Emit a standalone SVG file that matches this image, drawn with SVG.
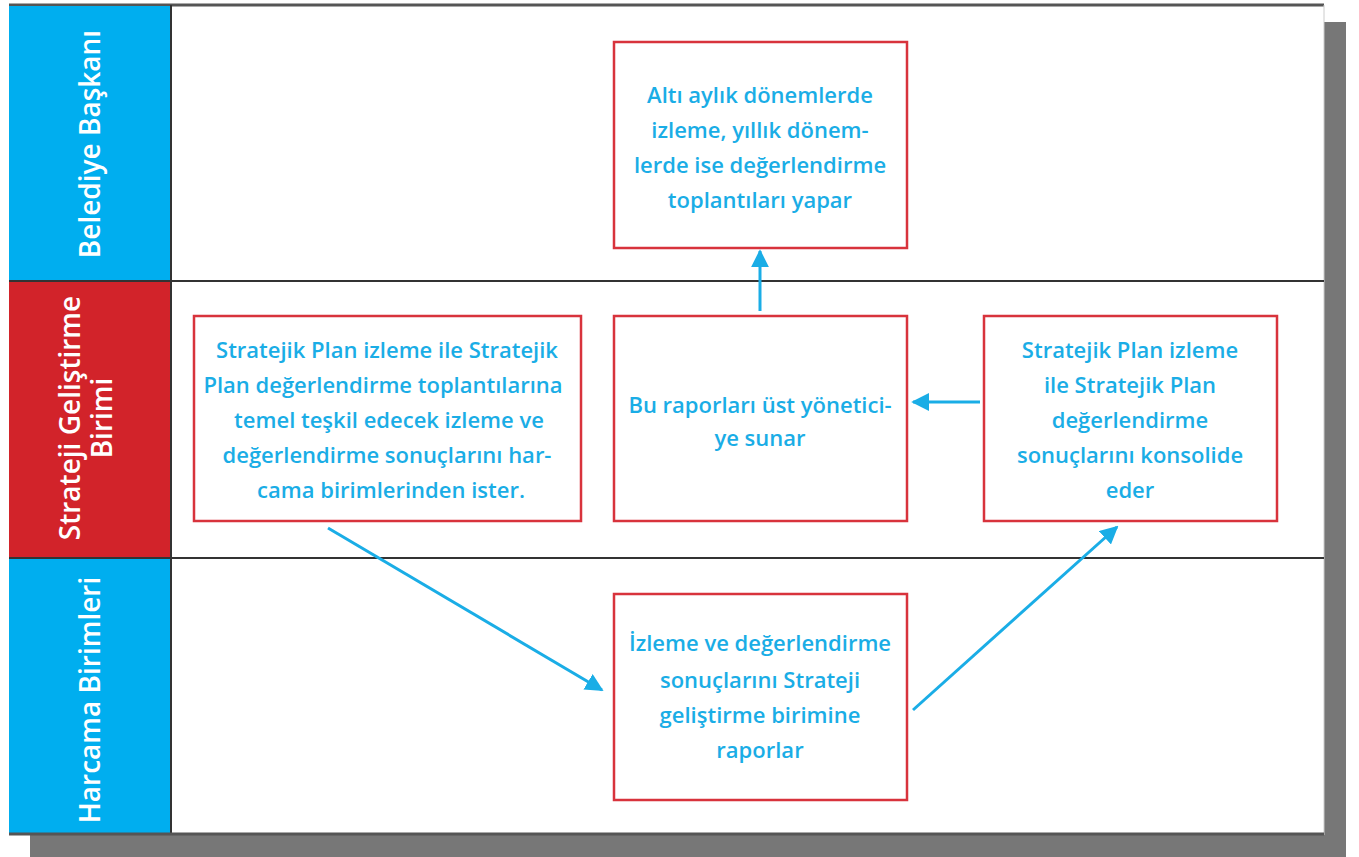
<svg xmlns="http://www.w3.org/2000/svg" width="1359" height="857" viewBox="0 0 1359 857">
<defs>
<style>
.lane{stroke:#333;stroke-width:2}
.box{fill:#fff;stroke:#D8333C;stroke-width:2.5}
.t{font-family:"Open Sans","Liberation Sans",sans-serif;font-size:22px;font-weight:600;fill:#1AADE6;text-anchor:middle}
.lbl{font-family:"Open Sans","Liberation Sans",sans-serif;font-size:28px;font-weight:600;fill:#fff;text-anchor:middle}
.c{stroke:#1AADE6;stroke-width:3;fill:none;marker-end:url(#ah)}
</style>
<marker id="ah" viewBox="0 0 10 10" refX="9" refY="5" markerWidth="6" markerHeight="6" orient="auto" markerUnits="strokeWidth">
<path d="M0,0 L10,5 L0,10 z" fill="#1AADE6"/>
</marker>
</defs>
<rect width="1359" height="857" fill="#fff"/>
<rect x="30" y="22" width="1316" height="835" fill="#777"/>
<rect x="9" y="4" width="1315" height="831" fill="#fff"/>
<line x1="9" y1="5" x2="1324" y2="5" stroke="#555" stroke-width="3"/>
<line x1="1324" y1="5" x2="1324" y2="835" stroke="#ccc" stroke-width="1"/>
<g id="lane-belediye">
<rect x="9" y="6" width="162" height="275" fill="#00AEEF"/>
<text class="lbl" transform="translate(100,144) rotate(-90)">Belediye Başkanı</text>
</g>
<g id="lane-strateji">
<rect x="9" y="281" width="162" height="277" fill="#D2232A"/>
<text class="lbl" transform="translate(80,418) rotate(-90)">Strateji Geliştirme</text>
<text class="lbl" transform="translate(112,418) rotate(-90)">Birimi</text>
</g>
<g id="lane-harcama">
<rect x="9" y="558" width="162" height="276" fill="#00AEEF"/>
<text class="lbl" transform="translate(100,700) rotate(-90)">Harcama Birimleri</text>
</g>
<g id="lane-lines">
<line class="lane" x1="171" y1="5" x2="171" y2="835"/>
<line class="lane" x1="9" y1="281" x2="1324" y2="281"/>
<line class="lane" x1="9" y1="558" x2="1324" y2="558"/>
<line x1="9" y1="834" x2="1324" y2="834" stroke="#555" stroke-width="3"/>
</g>
<g id="n-top">
<rect class="box" x="614" y="42" width="293" height="206"/>
<text class="t" x="760" y="103">Altı aylık dönemlerde</text>
<text class="t" x="760" y="138">izleme, yıllık dönem-</text>
<text class="t" x="760" y="173">lerde ise değerlendirme</text>
<text class="t" x="760" y="208">toplantıları yapar</text>
</g>
<g id="n-left">
<rect class="box" x="194" y="316" width="387" height="205"/>
<text class="t" x="387" y="358">Stratejik Plan izleme ile Stratejik</text>
<text class="t" x="383" y="393">Plan değerlendirme toplantılarına</text>
<text class="t" x="389" y="428">temel teşkil edecek izleme ve</text>
<text class="t" x="387" y="463">değerlendirme sonuçlarını har-</text>
<text class="t" x="391" y="498">cama birimlerinden ister.</text>
</g>
<g id="n-mid">
<rect class="box" x="614" y="316" width="293" height="205"/>
<text class="t" x="760" y="413">Bu raporları üst yönetici-</text>
<text class="t" x="760" y="446">ye sunar</text>
</g>
<g id="n-right">
<rect class="box" x="984" y="316" width="293" height="205"/>
<text class="t" x="1130" y="358">Stratejik Plan izleme</text>
<text class="t" x="1130" y="393">ile Stratejik Plan</text>
<text class="t" x="1130" y="428">değerlendirme</text>
<text class="t" x="1130" y="463">sonuçlarını konsolide</text>
<text class="t" x="1130" y="498">eder</text>
</g>
<g id="n-bottom">
<rect class="box" x="614" y="594" width="293" height="206"/>
<text class="t" x="760" y="651">İzleme ve değerlendirme</text>
<text class="t" x="760" y="688">sonuçlarını Strateji</text>
<text class="t" x="760" y="723">geliştirme birimine</text>
<text class="t" x="760" y="758">raporlar</text>
</g>
<g id="connectors">
<line class="c" x1="760" y1="311" x2="760" y2="251"/>
<line class="c" x1="980" y1="402" x2="913" y2="402"/>
<line class="c" x1="328" y1="528" x2="602" y2="690"/>
<line class="c" x1="913" y1="710" x2="1117" y2="527"/>
</g>
</svg>
